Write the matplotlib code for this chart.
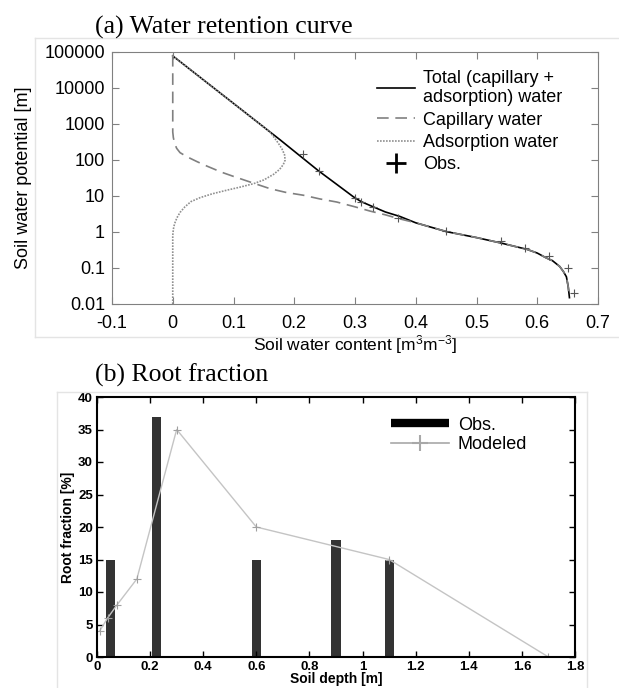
import numpy as np
import matplotlib
matplotlib.use('Agg')
from matplotlib import pyplot as plt
from matplotlib.lines import Line2D
from matplotlib.ticker import FixedLocator, LogLocator, NullFormatter

plt.rcParams['font.family'] = ['Liberation Sans', 'DejaVu Sans']
plt.rcParams['mathtext.fontset'] = 'custom'
plt.rcParams['mathtext.rm'] = 'Liberation Sans'
plt.rcParams['mathtext.default'] = 'regular'

# (a) 保水曲线 读图数据
theta_tot = [0.0, 0.177, 0.24, 0.27, 0.297, 0.31, 0.33, 0.35, 0.374, 0.40, 0.451,
             0.50, 0.539, 0.583, 0.60, 0.615, 0.625, 0.637, 0.643, 0.648, 0.651, 0.653]
psi_tot = [78000, 360, 50, 21, 9.6, 7, 5, 3.6, 2.7, 1.8, 1.02,
           0.7, 0.5, 0.33, 0.26, 0.19, 0.16, 0.11, 0.08, 0.057, 0.03, 0.015]

theta_cap = [0.0, 0.0, 0.0, 0.001, 0.003, 0.0065, 0.012, 0.023, 0.04, 0.056, 0.08,
             0.10, 0.132, 0.16, 0.187, 0.215, 0.242, 0.27, 0.30, 0.325, 0.35, 0.37,
             0.40, 0.451, 0.50, 0.539, 0.583, 0.60, 0.615, 0.625, 0.637, 0.643,
             0.648, 0.651, 0.653]
psi_cap = [83000, 1000, 600, 420, 290, 210, 160, 124, 90, 68, 46,
           35, 23, 16, 12.5, 10.5, 8.3, 6.8, 5.0, 3.8, 3.0, 2.4,
           1.8, 1.02, 0.7, 0.5, 0.33, 0.26, 0.19, 0.16, 0.11, 0.08,
           0.057, 0.03, 0.015]

theta_ads = [0.0, 0.0, 0.001, 0.003, 0.007, 0.012, 0.02, 0.03, 0.045, 0.065, 0.089,
             0.11, 0.133, 0.15, 0.166, 0.176, 0.182, 0.185, 0.184, 0.18, 0.174,
             0.167, 0.16, 0.0]
psi_ads = [0.01, 0.8, 1.2, 1.7, 2.5, 3.5, 5, 7, 9, 11.5, 14.5,
           17.5, 22, 28, 40, 55, 75, 100, 140, 200, 290,
           420, 600, 78000]

theta_obs = [0.215, 0.24, 0.30, 0.31, 0.33, 0.37, 0.45, 0.54, 0.58, 0.62, 0.65, 0.66]
psi_obs = [150, 50, 9, 7, 5, 2.5, 1.1, 0.55, 0.35, 0.21, 0.10, 0.02]

psi_ticks = [0.01, 0.1, 1, 10, 100, 1000, 10000, 100000]
psi_labels = ['0.01', '0.1', '1', '10', '100', '1000', '10000', '100000']

# (b) 根系分布
depth_obs = [0.05, 0.225, 0.6, 0.9, 1.1]
frac_obs = [15, 37, 15, 18, 15]
depth_mod = [0.01, 0.04, 0.075, 0.15, 0.3, 0.6, 1.1, 1.7]
frac_mod = [4, 6, 8, 12, 35, 20, 15, 0]

W, H = 619, 688
fig = plt.figure(figsize=(W / 100, H / 100), dpi=100)

# 浅灰色边框
def fline(x0, y0, x1, y1):
    fig.add_artist(Line2D([x0 / W, x1 / W], [1 - y0 / H, 1 - y1 / H],
                          color='#e4e4e4', lw=1))

fline(35, 38, 619, 38)
fline(35, 38, 35, 337)
fline(35, 337, 619, 337)
fline(57, 392, 587, 392)
fline(57, 392, 57, 688)
fline(587, 392, 587, 688)

# ---------- (a) ----------
ax1 = fig.add_axes([112 / W, 1 - 304 / H, (598 - 112) / W, 252 / H])
ax1.plot(theta_tot, psi_tot, color='black', lw=1.2,
         label='Total (capillary +\nadsorption) water')
ax1.plot(theta_cap, psi_cap, color='#808080', lw=1.2, dashes=(7, 4),
         label='Capillary water')
ax1.plot(theta_ads, psi_ads, color='#909090', lw=1.2, linestyle=(0, (1, 0.8)),
         label='Adsorption water')
ax1.plot(theta_obs, psi_obs, linestyle='none', marker='+', markersize=6,
         markeredgewidth=0.8, color='#555555')
ax1.plot([], [], linestyle='none', marker='+', markersize=14,
         markeredgewidth=2, color='black', label='Obs.')

ax1.set_yscale('log')
ax1.set_xlim(-0.1, 0.7)
ax1.set_ylim(0.01, 100000)
ax1.yaxis.set_major_locator(FixedLocator(psi_ticks))
ax1.set_yticklabels(psi_labels)
ax1.yaxis.set_minor_locator(LogLocator(base=10, subs=(2, 5)))
ax1.yaxis.set_minor_formatter(NullFormatter())
ax1.set_xticks(np.arange(-0.1, 0.71, 0.1))
ax1.set_xticklabels(['-0.1', '0', '0.1', '0.2', '0.3', '0.4', '0.5', '0.6', '0.7'])
ax1.tick_params(which='both', direction='in', top=True, right=True,
                color='#808080', labelsize=13)
ax1.tick_params(axis='x', pad=8)
ax1.tick_params(axis='y', pad=5)
ax1.tick_params(which='major', length=5)
ax1.tick_params(which='minor', length=3)
for s in ax1.spines.values():
    s.set_color('#808080')
ax1.set_xlabel('Soil water content [m$^3$m$^{-3}$]', fontsize=12.5, labelpad=1)
ax1.set_ylabel('Soil water potential [m]', fontsize=13, labelpad=9)
ax1.legend(loc='upper left', bbox_to_anchor=(0.545, 0.93), frameon=False,
           fontsize=13, borderpad=0, borderaxespad=0, handlelength=2.1,
           handletextpad=0.45, labelspacing=0.3, numpoints=1)

fig.text(95 / W, 1 - 27 / H, '(a) Water retention curve', family='Liberation Serif',
         fontsize=18.5, ha='left', va='center')

# ---------- (b) ----------
ax2 = fig.add_axes([97 / W, 1 - 657 / H, (575 - 97) / W, 260 / H])
ax2.bar(depth_obs, frac_obs, width=0.034, color='#333333')
ax2.plot(depth_mod, frac_mod, color='#c4c4c4', lw=1, marker='+', markersize=6,
         markeredgecolor='#a0a0a0', markeredgewidth=0.8)
ax2.set_xlim(0, 1.8)
ax2.set_ylim(0, 40)
ax2.set_xticks(np.arange(0, 1.81, 0.2))
ax2.set_xticklabels(['0', '0.2', '0.4', '0.6', '0.8', '1', '1.2', '1.4', '1.6', '1.8'])
ax2.set_yticks(range(0, 41, 5))
ax2.tick_params(direction='in', top=True, right=True, length=4, width=1,
                labelsize=9.5, pad=3)
for lab in ax2.get_xticklabels() + ax2.get_yticklabels():
    lab.set_fontweight('bold')
for s in ax2.spines.values():
    s.set_linewidth(1.5)
ax2.set_xlabel('Soil depth [m]', fontsize=10, fontweight='bold', labelpad=-1)
ax2.set_ylabel('Root fraction [%]', fontsize=10, fontweight='bold', labelpad=2)

h_obs = Line2D([], [], color='black', lw=6, solid_capstyle='butt')
h_mod = Line2D([], [], color='#a8a8a8', lw=1.2, marker='+', markersize=12,
               markeredgewidth=1.5)
ax2.legend([h_obs, h_mod], ['Obs.', 'Modeled'], loc='upper left',
           bbox_to_anchor=(0.615, 0.925), frameon=False, fontsize=13,
           borderpad=0, borderaxespad=0, handlelength=3.2, handletextpad=0.5,
           labelspacing=0.15, numpoints=1)

fig.text(95 / W, 1 - 375 / H, '(b) Root fraction', family='Liberation Serif',
         fontsize=18.5, ha='left', va='center')

fig.savefig('out.png', dpi=100)
